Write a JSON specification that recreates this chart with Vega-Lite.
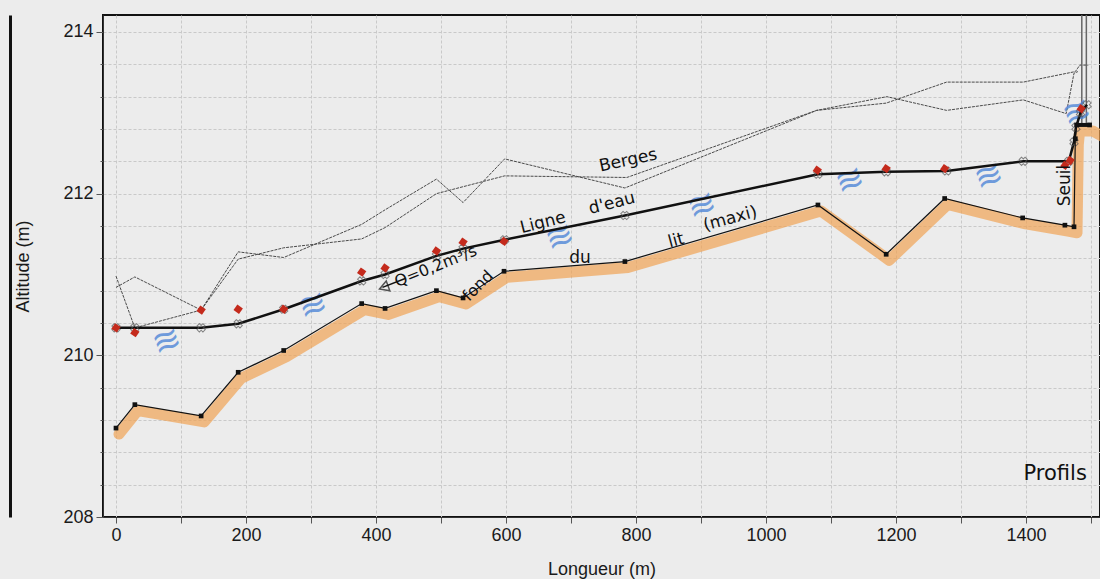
{
  "$schema": "https://vega.github.io/schema/vega-lite/v6.json",
  "autosize": {"type": "none"},
  "width": 997,
  "height": 502,
  "padding": {"left": 103, "top": 15, "right": 0, "bottom": 62},
  "background": "#ececec",
  "config": {
    "view": {"fill": "#ececec", "stroke": "#111111", "strokeWidth": 2},
    "font": "Liberation Sans"
  },
  "datasets": {
    "fond": [
      {"m": 0, "z": 209.10}, {"m": 29, "z": 209.39}, {"m": 131, "z": 209.25},
      {"m": 188, "z": 209.79}, {"m": 258, "z": 210.06}, {"m": 378, "z": 210.64},
      {"m": 414, "z": 210.58}, {"m": 493, "z": 210.80}, {"m": 534, "z": 210.71},
      {"m": 597, "z": 211.04}, {"m": 783, "z": 211.16}, {"m": 1080, "z": 211.86},
      {"m": 1185, "z": 211.25}, {"m": 1275, "z": 211.94}, {"m": 1395, "z": 211.70},
      {"m": 1460, "z": 211.61}, {"m": 1474, "z": 211.59}, {"m": 1476, "z": 212.68},
      {"m": 1478, "z": 212.85}, {"m": 1498, "z": 212.85},
      {"m": 1514, "z": 212.78, "ext": true}
    ],
    "eau": [
      {"m": 0, "z": 210.34}, {"m": 29, "z": 210.34}, {"m": 131, "z": 210.34},
      {"m": 188, "z": 210.39}, {"m": 258, "z": 210.57}, {"m": 378, "z": 210.92},
      {"m": 414, "z": 211.00}, {"m": 493, "z": 211.23}, {"m": 534, "z": 211.32},
      {"m": 598, "z": 211.43}, {"m": 783, "z": 211.73}, {"m": 1080, "z": 212.24},
      {"m": 1185, "z": 212.27}, {"m": 1278, "z": 212.28}, {"m": 1396, "z": 212.40},
      {"m": 1466, "z": 212.40}, {"m": 1474, "z": 212.64}, {"m": 1477, "z": 212.82},
      {"m": 1484, "z": 213.00}, {"m": 1494, "z": 213.10}
    ],
    "mesures": [
      {"m": 0, "z": 210.34}, {"m": 29, "z": 210.28}, {"m": 131, "z": 210.56},
      {"m": 188, "z": 210.57}, {"m": 258, "z": 210.57}, {"m": 378, "z": 211.03},
      {"m": 414, "z": 211.08}, {"m": 493, "z": 211.29}, {"m": 534, "z": 211.40},
      {"m": 597, "z": 211.41}, {"m": 1079, "z": 212.29}, {"m": 1185, "z": 212.31},
      {"m": 1275, "z": 212.31}, {"m": 1460, "z": 212.35}, {"m": 1468, "z": 212.41},
      {"m": 1485, "z": 213.05}
    ],
    "berges": [
      {"rive": "A", "m": 0, "z": 210.98}, {"rive": "A", "m": 29, "z": 210.34},
      {"rive": "A", "m": 131, "z": 210.56}, {"rive": "A", "m": 188, "z": 211.28},
      {"rive": "A", "m": 258, "z": 211.21}, {"rive": "A", "m": 378, "z": 211.62},
      {"rive": "A", "m": 414, "z": 211.80}, {"rive": "A", "m": 493, "z": 212.18},
      {"rive": "A", "m": 534, "z": 211.89}, {"rive": "A", "m": 598, "z": 212.43},
      {"rive": "A", "m": 783, "z": 212.07}, {"rive": "A", "m": 1078, "z": 213.03},
      {"rive": "A", "m": 1185, "z": 213.12}, {"rive": "A", "m": 1278, "z": 213.38},
      {"rive": "A", "m": 1396, "z": 213.38}, {"rive": "A", "m": 1476, "z": 213.51},
      {"rive": "A", "m": 1483, "z": 213.59}, {"rive": "A", "m": 1496, "z": 213.59},
      {"rive": "B", "m": 0, "z": 210.84}, {"rive": "B", "m": 29, "z": 210.97},
      {"rive": "B", "m": 131, "z": 210.56}, {"rive": "B", "m": 188, "z": 211.19},
      {"rive": "B", "m": 258, "z": 211.33}, {"rive": "B", "m": 378, "z": 211.44},
      {"rive": "B", "m": 414, "z": 211.58}, {"rive": "B", "m": 493, "z": 212.00},
      {"rive": "B", "m": 598, "z": 212.22}, {"rive": "B", "m": 786, "z": 212.20},
      {"rive": "B", "m": 1078, "z": 213.03}, {"rive": "B", "m": 1186, "z": 213.20},
      {"rive": "B", "m": 1278, "z": 213.03}, {"rive": "B", "m": 1396, "z": 213.16},
      {"rive": "B", "m": 1462, "z": 212.99}, {"rive": "B", "m": 1474, "z": 213.49},
      {"rive": "B", "m": 1480, "z": 213.51}
    ],
    "murs": [
      {"m": 1486, "z": 212.85, "z2": 215}, {"m": 1493, "z": 212.85, "z2": 215}
    ],
    "profils": [
      {"m": -7, "label": "1"}, {"m": 22, "label": "2"}, {"m": 124, "label": "3"},
      {"m": 184, "label": "4"}, {"m": 254, "label": "5"}, {"m": 373, "label": "6"},
      {"m": 408, "label": "7"}, {"m": 488, "label": "8"}, {"m": 528, "label": "9"},
      {"m": 592, "label": "10"}, {"m": 780, "label": "11"}, {"m": 1076, "label": "12"},
      {"m": 1180, "label": "13"}, {"m": 1273, "label": "14"}, {"m": 1392, "label": "15"},
      {"m": 1458, "label": "16"}, {"m": 1481, "label": "19"}
    ],
    "vagues": [
      {"m": 78, "z": 210.17}, {"m": 303, "z": 210.61}, {"m": 683, "z": 211.45},
      {"m": 901, "z": 211.85}, {"m": 1129, "z": 212.16}, {"m": 1343, "z": 212.21},
      {"m": 1478, "z": 213.0}
    ]
  },
  "resolve": {"scale": {"y": "independent"}, "axis": {"y": "independent"}},
  "layer": [
    {
      "encoding": {
        "x": {
          "field": "m", "type": "quantitative",
          "scale": {"domain": [-20, 1514], "nice": false, "zero": false},
          "axis": {
            "title": "Longueur (m)",
            "values": [0, 100, 200, 300, 400, 500, 600, 700, 800, 900, 1000, 1100, 1200, 1300, 1400, 1500],
            "tickCount": 100,
            "labelExpr": "datum.value % 200 === 0 ? datum.label : ''",
            "format": "d",
            "labelFontSize": 18, "labelColor": "#1a1a1a", "labelPadding": 3,
            "titleFontSize": 18, "titleFontWeight": "normal", "titleColor": "#1a1a1a", "titlePadding": 16,
            "tickSize": 6, "tickColor": "#555555", "domainColor": "#333333",
            "grid": true, "gridColor": "#c9c9c9", "gridDash": [3, 2], "gridWidth": 1
          }
        },
        "y": {
          "field": "z", "type": "quantitative",
          "scale": {"domain": [208, 214.21], "nice": false, "zero": false},
          "axis": {
            "title": "Altitude (m)",
            "orient": "left",
            "values": [208, 208.4, 208.8, 209.2, 209.6, 210, 210.4, 210.8, 211.2, 211.6, 212, 212.4, 212.8, 213.2, 213.6, 214],
            "tickCount": 100,
            "tickMinStep": 0.1,
            "labelExpr": "abs(datum.value - 2 * round(datum.value / 2)) < 0.01 ? format(datum.value, 'd') : ''",
            "labelFontSize": 18, "labelColor": "#1a1a1a", "labelPadding": 3,
            "titleFontSize": 18, "titleFontWeight": "normal", "titleColor": "#1a1a1a", "titlePadding": 30,
            "tickSize": {"condition": {"test": "abs(datum.value - 2 * round(datum.value / 2)) < 0.01", "value": 7}, "value": 3},
            "tickColor": "#555555", "domainColor": "#333333",
            "grid": true, "gridColor": "#c9c9c9", "gridDash": [3, 2], "gridWidth": 1
          }
        }
      },
      "layer": [
        {
          "data": {"name": "profils"},
          "mark": {"type": "square", "size": 300, "color": "#f2ec86", "opacity": 0.85},
          "encoding": {"y": {"datum": 208.13}}
        },
        {
          "data": {"name": "profils"},
          "mark": {"type": "text", "angle": 270, "fontSize": 10, "color": "#222222", "font": "Liberation Sans"},
          "encoding": {"y": {"datum": 208.13}, "text": {"field": "label"}}
        },
        {
          "data": {"name": "fond"},
          "mark": {"type": "line", "color": "#f0a050", "opacity": 0.68, "strokeWidth": 11, "yOffset": 6, "xOffset": 3, "strokeJoin": "round", "strokeCap": "round"}
        },
        {
          "data": {"name": "berges"},
          "mark": {"type": "line", "color": "#4a4a4a", "strokeWidth": 1, "strokeDash": [3, 1]},
          "encoding": {"detail": {"field": "rive"}}
        },
        {
          "data": {"name": "murs"},
          "mark": {"type": "rule", "color": "#666666", "strokeWidth": 1.5, "clip": true},
          "encoding": {"y2": {"field": "z2"}}
        },
        {
          "data": {"name": "vagues"},
          "mark": {"type": "text", "text": "≋", "fontSize": 34, "color": "#4f86d8", "opacity": 0.8, "angle": 340}
        },
        {
          "data": {"name": "eau"},
          "mark": {"type": "line", "color": "#111111", "strokeWidth": 2.5}
        },
        {
          "data": {"name": "eau"},
          "mark": {"type": "point", "shape": "cross", "angle": 45, "size": 70, "filled": false, "color": "#555555", "strokeWidth": 1}
        },
        {
          "data": {"name": "fond"},
          "transform": [{"filter": "!datum.ext"}],
          "mark": {"type": "line", "color": "#111111", "strokeWidth": 1.2}
        },
        {
          "data": {"name": "fond"},
          "transform": [{"filter": "!datum.ext"}],
          "mark": {"type": "square", "size": 22, "color": "#111111", "opacity": 1}
        },
        {
          "data": {"values": [{"m": 1478, "z": 212.85, "m2": 1498}]},
          "mark": {"type": "rule", "color": "#111111", "strokeWidth": 4},
          "encoding": {"x2": {"field": "m2"}}
        },
        {
          "data": {"name": "mesures"},
          "mark": {"type": "square", "size": 45, "angle": 35, "color": "#c42a1c", "opacity": 1}
        },
        {
          "data": {"values": [{"m": 410, "z": 210.84, "m2": 445, "z2": 210.95}]},
          "mark": {"type": "rule", "color": "#111111", "strokeWidth": 1.5},
          "encoding": {"x2": {"field": "m2"}, "y2": {"field": "z2"}}
        },
        {
          "data": {"values": [{"m": 412, "z": 210.84}]},
          "mark": {"type": "point", "shape": "triangle-left", "size": 110, "angle": 340, "filled": false, "color": "#111111", "strokeWidth": 1.5}
        },
        {
          "data": {"values": [{"m": 788, "z": 212.41, "t": "Berges"}]},
          "mark": {"type": "text", "angle": 348, "fontSize": 17, "font": "DejaVu Sans", "color": "#111111"},
          "encoding": {"text": {"field": "t"}}
        },
        {
          "data": {"values": [{"m": 657, "z": 211.64, "t": "Ligne"}, {"m": 763, "z": 211.88, "t": "d'eau"}]},
          "mark": {"type": "text", "angle": 346, "fontSize": 17, "font": "DejaVu Sans", "color": "#111111"},
          "encoding": {"text": {"field": "t"}}
        },
        {
          "data": {"values": [{"m": 492, "z": 211.1, "t": "Q=0,2m³/s"}]},
          "mark": {"type": "text", "angle": 338, "fontSize": 16, "font": "DejaVu Sans", "color": "#111111"},
          "encoding": {"text": {"field": "t"}}
        },
        {
          "data": {"values": [{"m": 557, "z": 210.86, "t": "fond"}]},
          "mark": {"type": "text", "angle": 315, "fontSize": 16, "font": "DejaVu Sans", "color": "#111111"},
          "encoding": {"text": {"field": "t"}}
        },
        {
          "data": {"values": [{"m": 714, "z": 211.2, "t": "du"}]},
          "mark": {"type": "text", "fontSize": 17, "font": "DejaVu Sans", "color": "#111111"},
          "encoding": {"text": {"field": "t"}}
        },
        {
          "data": {"values": [{"m": 1445, "z": 208.53, "t": "Profils"}]},
          "mark": {"type": "text", "fontSize": 21, "font": "DejaVu Sans", "color": "#111111"},
          "encoding": {"text": {"field": "t"}}
        },
        {
          "data": {"values": [{"m": 862, "z": 211.42, "t": "lit"}, {"m": 945, "z": 211.69, "t": "(maxi)"}]},
          "mark": {"type": "text", "angle": 345, "fontSize": 17, "font": "DejaVu Sans", "color": "#111111"},
          "encoding": {"text": {"field": "t"}}
        },
        {
          "data": {"values": [{"m": 1460, "z": 212.1, "t": "Seuil"}]},
          "mark": {"type": "text", "angle": 270, "fontSize": 17, "font": "DejaVu Sans", "color": "#111111"},
          "encoding": {"text": {"field": "t"}}
        }
      ]
    },
    {
      "data": {"name": "murs"},
      "mark": {"type": "point", "opacity": 0},
      "encoding": {
        "y": {
          "field": "z", "type": "quantitative",
          "scale": {"domain": [208, 214.21], "nice": false, "zero": false},
          "axis": {"orient": "left", "offset": 93, "title": null, "labels": false, "ticks": false, "grid": false, "domainColor": "#111111", "domainWidth": 3}
        }
      }
    }
  ]
}
